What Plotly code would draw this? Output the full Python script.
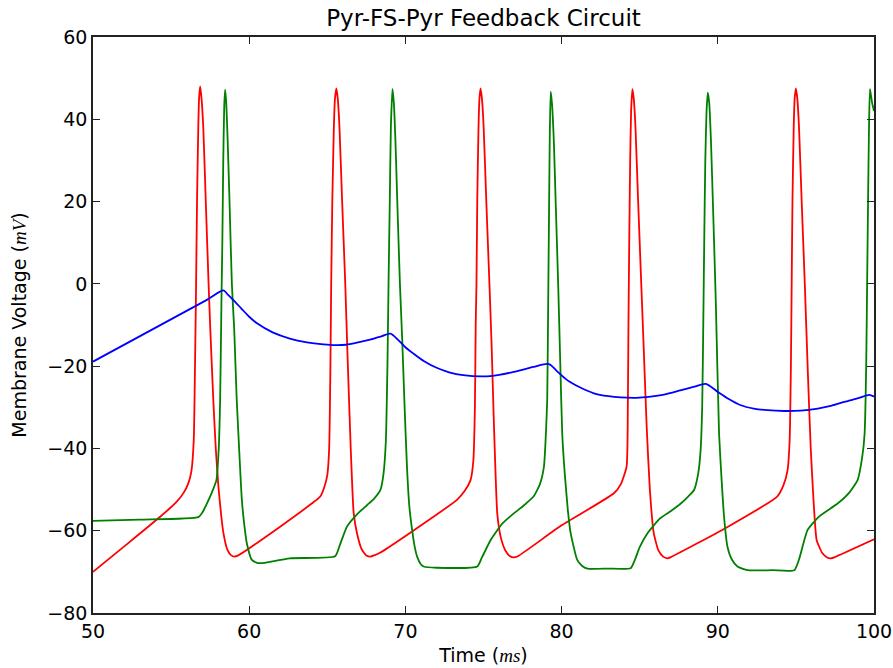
import plotly.graph_objects as go

# ---- data ----
red_t = [50.0, 52.0, 54.3, 55.3, 55.8, 56.1, 56.3, 56.45, 56.53, 56.6, 56.66, 56.74, 56.79, 56.86,
         56.95, 57.06, 57.22, 57.4, 57.52, 57.7, 57.86, 58.03, 58.2, 58.35, 58.6, 58.85, 59.05, 59.3,
         61.8, 64.0, 64.55, 64.8, 65.0, 65.12, 65.2, 65.25, 65.32, 65.42, 65.49, 65.58,
         65.67, 65.78, 65.95, 66.15, 66.3, 66.5, 66.69, 66.9, 67.2, 67.5, 67.76, 68.0,
         68.4, 70.5, 73.3, 73.8, 74.17, 74.35, 74.45, 74.5, 74.55, 74.6, 74.68, 74.74, 74.81,
         74.9, 75.01, 75.18, 75.38, 75.52, 75.65, 75.77, 75.88, 76.1, 76.4, 76.7, 76.94, 77.2,
         80.0, 83.35, 83.8, 84.16, 84.24, 84.28, 84.33, 84.39, 84.45, 84.53,
         84.62, 84.73, 84.9, 85.1, 85.25, 85.45, 85.65, 85.9, 86.2, 86.5, 86.77, 87.0,
         90.57, 93.8, 94.2, 94.47, 94.6, 94.68, 94.73, 94.78, 94.86, 94.92, 95.0,
         95.09, 95.2, 95.37, 95.57, 95.75, 95.95, 96.15, 96.33, 96.7, 97.0, 97.24, 97.5, 100.0]
red_v = [-70.0, -63.8, -56.6, -53.2, -50.8, -48.5, -45.5, -38, -20, 0, 20, 38, 45, 48.0,
         45, 38, 20, 0, -12, -28, -40, -49.3, -56, -60.6, -64.6, -66.0, -66.3, -66.0,
         -59.5, -53.4, -51.7, -49.5, -46.5, -40, -20, 0, 20, 38, 45, 47.5,
         45, 38, 20, 0, -18, -40, -55.8, -60.6, -64.5, -66.0, -66.3, -66.0,
         -65.3, -60.0, -52.5, -50.3, -47.7, -43, -30, -10, 0, 20, 38, 45, 47.5,
         45, 38, 20, 0, -15, -32, -46, -55.8, -61.5, -64.8, -66.2, -66.5, -66.2,
         -58.7, -50.9, -48.6, -44.4, -30, -10, 10, 30, 42, 47.3,
         45, 38, 20, 0, -15, -35, -50, -60.6, -64.8, -66.3, -66.7, -66.4,
         -59.2, -51.7, -49.0, -45.2, -38, -20, 0, 20, 38, 45, 47.5,
         45, 38, 20, 0, -20, -40, -54, -62.3, -65.5, -66.5, -66.7, -66.4, -62.1]

green_t = [50.0, 53.0, 56.75, 57.0, 57.29, 57.6, 57.9, 58.05, 58.14, 58.22, 58.28, 58.34, 58.4, 58.46,
           58.53, 58.62, 58.74, 58.89, 59.04, 59.2, 59.38, 59.53, 59.7, 59.85, 60.17, 60.5, 60.7, 61.0,
           62.6, 65.5, 65.8, 66.26, 66.9, 67.54, 68.0, 68.4, 68.6, 68.75, 68.85, 68.92, 69.0, 69.07, 69.17,
           69.26, 69.36, 69.48, 69.65, 69.8, 69.95, 70.1, 70.25, 70.43, 70.6, 70.75, 71.0, 71.17, 72.0,
           74.6, 74.9, 75.45, 76.2, 76.94, 77.6, 78.2, 78.6, 78.87, 79.0, 79.08, 79.14, 79.19, 79.24, 79.3,
           79.38, 79.5, 79.62, 79.78, 79.92, 80.04, 80.2, 80.4, 80.58, 81.0, 81.3, 81.65, 83.0,
           84.42, 84.7, 85.0, 85.5, 86.3, 87.0, 87.63, 88.1, 88.48, 88.75, 88.9, 89.0, 89.07, 89.13,
           89.2, 89.28, 89.36, 89.45, 89.56, 89.7, 89.87, 90.08, 90.25, 90.4, 90.62, 90.9, 91.26, 91.9,
           93.5, 94.9, 95.2, 95.75, 96.5, 97.67, 98.4, 98.95, 99.25, 99.4, 99.5, 99.56, 99.62, 99.68,
           99.74, 99.8, 99.88, 100.0]
green_v = [-57.6, -57.3, -56.7, -55.6, -53.4, -50.8, -47.7, -40, -28, -5, 10, 30, 43, 47.2,
           44, 35, 20, 0, -11, -28, -42, -52.5, -59, -63.1, -67.1, -67.8, -67.9, -67.8,
           -66.7, -66.2, -63.5, -59.0, -56.0, -53.8, -52.2, -50.1, -46.1, -38, -20, 0, 20, 38, 47.4,
           44, 35, 20, 0, -14, -30, -44.4, -54, -59.8, -64, -66.3, -68.2, -68.7, -69.0,
           -68.7, -66.5, -62.3, -58.3, -55.8, -53.8, -51.7, -48.8, -44.4, -36, -28, -5, 15, 35, 46.7,
           44, 35, 20, 0, -20, -36.3, -46, -55, -60.6, -67.1, -68.5, -69.2, -69.2,
           -69.1, -67, -64, -60.6, -57, -55.2, -53.4, -51.7, -50.1, -46, -40.4, -30, -10, 10,
           30, 42, 46.5, 44, 35, 18, -4, -36.3, -48, -56.6, -63.9, -67, -68.7, -69.6,
           -69.6, -69.6, -67, -59.8, -56.5, -53.4, -50.8, -47.7, -42, -36.3, -20, 0, 20, 38,
           47.3, 46, 44, 42]

blue_t = [50.0, 57.29, 58.35, 58.6, 59.0, 59.5, 60.0, 60.5, 61.5, 62.6, 63.7, 64.76, 65.5, 66.2,
          66.9, 67.8, 68.5, 69.04, 69.5, 70.0, 70.5, 71.2, 72.0, 72.8, 73.7, 75.0, 76.0, 76.94, 78.2,
          79.19, 79.7, 80.36, 81.2, 82.07, 83.0, 83.78, 84.8, 85.7, 86.56, 87.6, 88.5, 89.23, 89.98,
          90.7, 91.47, 92.3, 93.18, 94.25, 95.3, 96.4, 97.3, 98.1, 99.0, 99.7, 100.0]
blue_v = [-18.9, -3.9, -1.6, -2.5, -4.0, -6.0, -8.0, -9.6, -11.8, -13.3, -14.2, -14.7, -14.9, -14.8,
          -14.3, -13.5, -12.7, -12.1, -13.5, -15.4, -16.9, -18.8, -20.4, -21.5, -22.2, -22.5, -22.1, -21.4, -20.2,
          -19.5, -21.2, -23.4, -25.2, -26.6, -27.3, -27.6, -27.7, -27.4, -26.9, -25.9, -25.0, -24.3, -26.2,
          -28.0, -29.5, -30.3, -30.7, -30.9, -30.8, -30.3, -29.6, -28.7, -27.8, -27.0, -27.4]

x_ticks = [50, 60, 70, 80, 90, 100]
y_ticks = [-80, -60, -40, -20, 0, 20, 40, 60]

title_text = "Pyr-FS-Pyr Feedback Circuit"
x_label = "Time (<i style='font-family:\"Liberation Serif\"'>ms</i>)"
y_label = "Membrane Voltage (<i style='font-family:\"Liberation Serif\"'>mV</i>)"

fig = go.Figure()
fig.add_trace(go.Scatter(x=red_t, y=red_v, mode="lines",
                         line=dict(color="#ff0000", width=1.8, shape="spline", smoothing=0.5), showlegend=False))
fig.add_trace(go.Scatter(x=green_t, y=green_v, mode="lines",
                         line=dict(color="#008000", width=1.8, shape="spline", smoothing=0.5), showlegend=False))
fig.add_trace(go.Scatter(x=blue_t, y=blue_v, mode="lines",
                         line=dict(color="#0000ff", width=1.8, shape="spline", smoothing=0.8), showlegend=False))

axis_common = dict(showgrid=False, zeroline=False, showline=True, linecolor="#222222", linewidth=1.6,
                   mirror="ticks", ticks="inside", ticklen=7, tickcolor="#222222", tickwidth=1.2,
                   automargin=False, ticklabeloverflow="allow",
                   tickfont=dict(family="DejaVu Sans", size=19, color="black"))

fig.update_layout(
    width=893, height=668,
    margin=dict(l=93, r=19, t=37, b=55),
    paper_bgcolor="white", plot_bgcolor="white",
    font=dict(family="DejaVu Sans", color="black"),
    title=dict(text=title_text, x=0.5, xref="paper", y=1 - 18 / 668, yref="container",
               yanchor="middle", xanchor="center", font=dict(size=23, family="DejaVu Sans", color="black")),
    xaxis=dict(range=[50, 100], tickvals=x_ticks, ticktext=[str(v) for v in x_ticks],
               title=dict(text=x_label, font=dict(size=19), standoff=8), **axis_common),
    yaxis=dict(range=[-80, 60], tickvals=y_ticks, ticktext=[("\u2212" + str(-v)) if v < 0 else str(v) for v in y_ticks],
               title=dict(text=y_label, font=dict(size=19), standoff=16), **axis_common),
)

fig.write_html("out.html", config={"displayModeBar": False},
               post_script="document.body.style.margin='0';")
